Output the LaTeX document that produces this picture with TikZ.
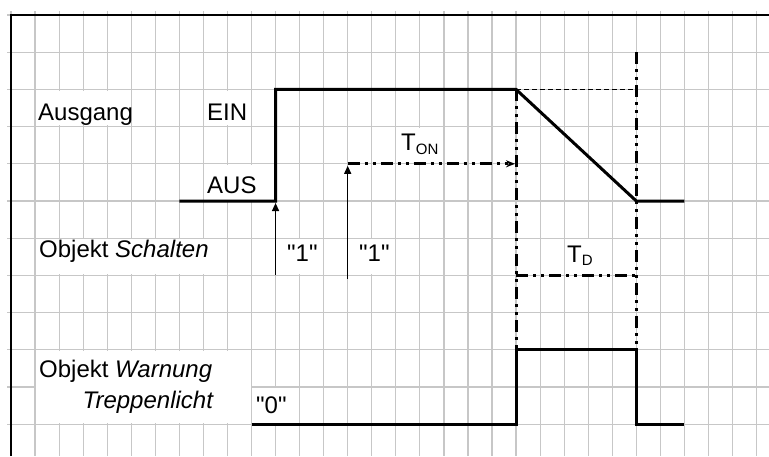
\documentclass[tikz,border=0pt]{standalone}
\usepackage{fontspec}
\setmainfont{Liberation Sans}
\newfontfamily\plainfont{Liberation Sans}
\usetikzlibrary{arrows.meta}
\tikzset{
 gridline/.style={draw=black!22, line width=1.2pt},
 frameline/.style={draw=black, line width=1.2pt},
 signal/.style={draw=black, line width=3pt, line join=miter},
 dashdot/.style={draw=black, line width=3pt, dash pattern=on 12pt off 5pt on 3pt off 5pt on 3pt off 5pt},
 thindash/.style={draw=black, line width=1.3pt, dash pattern=on 5pt off 3pt},
 trigger/.style={draw=black, line width=1.3pt, -{Triangle[length=8pt,width=7pt]}, shorten >=2pt},
 labelbox/.style={fill=white},
 lbl/.style={inner sep=0pt, anchor=base west, font=\plainfont\fontsize{24pt}{28pt}\selectfont},
}
\newcommand{\subtxt}[2]{\raisebox{#1}{\fontsize{15pt}{16pt}\selectfont #2}}
\newcommand{\lbox}[4]{\fill[labelbox] ({#1+0.04},{#2+0.03}) rectangle ({#3-0.04},{#4-0.03});}
\begin{document}
\begin{tikzpicture}
\useasboundingbox (0pt,0pt) rectangle (769pt,-456pt);
\begin{scope}[shift={(11pt,-15pt)}, x=24.05pt, y=-37.2pt]
  % grid
  \foreach \c in {0,...,31} \draw[gridline] (\c,-0.1075) -- (\c,11.855);
  \foreach \r in {0,...,11} \draw[gridline] (-0.1663,\r) -- (31.52,\r);
  % white label boxes
  \lbox{1}{2}{5}{3}
  \lbox{8}{2}{10}{3}
  \lbox{8}{4}{11}{5}
  \lbox{1}{6}{9}{7}
  \lbox{11}{6}{13}{7}
  \lbox{14}{6}{16}{7}
  \lbox{16}{3}{18}{4}
  \lbox{23}{6}{25}{7}
  \lbox{1}{9}{10}{11}
  \lbox{10}{10}{12}{11}
  % frame
  \draw[frameline] (0,11.855) -- (0,0) -- (31.52,0);
  % coordinates
  \coordinate (a0) at (7,5);
  \coordinate (a1) at (11,5);
  \coordinate (a2) at (11,2);
  \coordinate (a3) at (21,2);
  \coordinate (a4) at (26,5);
  \coordinate (a5) at (28,5);
  \coordinate (d26) at (26,2);
  \coordinate (v21b) at (21,9);
  \coordinate (v26t) at (26,1);
  \coordinate (v26b) at (26,9);
  \coordinate (td0) at (21,7);
  \coordinate (td1) at (26,7);
  \coordinate (w0) at (10,11);
  \coordinate (w1) at (21,11);
  \coordinate (w2) at (21,9);
  \coordinate (w3) at (26,9);
  \coordinate (w4) at (26,11);
  \coordinate (w5) at (28,11);
  \coordinate (s1b) at (11,7);
  \coordinate (s2b) at (14,7.09);
  \coordinate (s2t) at (14,4);
  \coordinate (ton1) at (21,4);
  % timing lines
  \draw[thindash] (a3) -- (d26);
  \draw[dashdot] (a3) -- (v21b);
  \draw[dashdot] (v26t) -- (v26b);
  \draw[dashdot] (td0) -- (td1);
  \draw[dashdot, -{Stealth[length=9pt,width=7pt]}, shorten >=1pt] (s2t) -- (ton1);
  % signals
  \draw[signal] (a0) -- (a1) -- (a2) -- (a3) -- (a4) -- (a5);
  \draw[signal] (w0) -- (w1) -- (w2) -- (w3) -- (w4) -- (w5);
  % trigger arrows
  \draw[trigger] (s1b) -- (a1);
  \draw[trigger] (s2b) -- (s2t);
\end{scope}
% texts
\node[lbl] (ausgang) at (38pt,-120pt) {Ausgang};
\node[lbl] (ein) at (207pt,-120pt) {EIN};
\node[lbl] (aus) at (207pt,-193pt) {AUS};
\node[lbl] (schalten) at (39pt,-257pt) {Objekt \textit{Schalten}};
\node[lbl] (one1) at (287pt,-261pt) {"1"};
\node[lbl] (one2) at (359pt,-261pt) {"1"};
\node[lbl] (ton) at (401pt,-150pt) {T\subtxt{-4pt}{ON}};
\node[lbl] (td) at (567pt,-262pt) {T\subtxt{-3pt}{D}};
\node[lbl] (warn) at (39pt,-377pt) {Objekt \textit{Warnung}};
\node[lbl, anchor=base east] (trep) at (214pt,-408pt) {\textit{Treppenlicht}};
\node[lbl] (zero) at (256pt,-413pt) {"0"};
\end{tikzpicture}
\end{document}
